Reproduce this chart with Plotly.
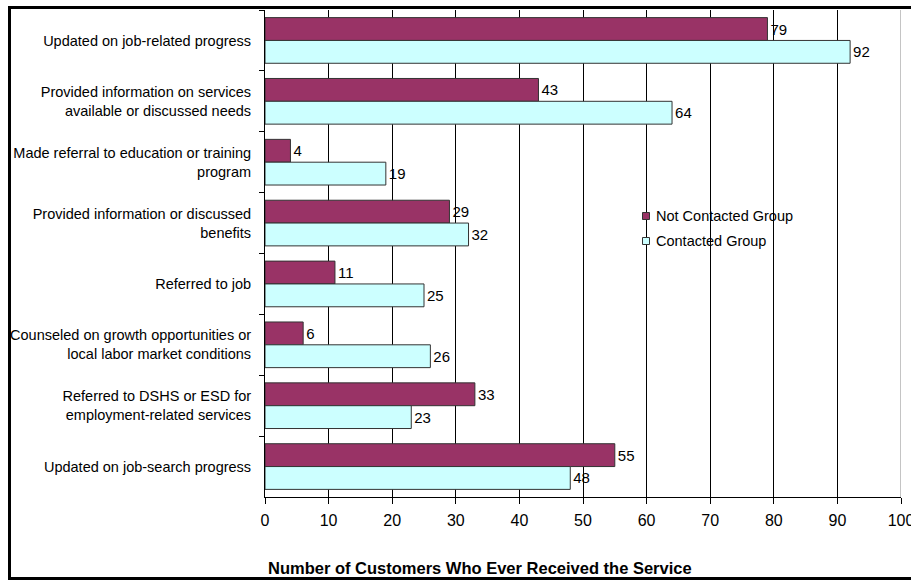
import plotly.graph_objects as go

# Services received, listed top to bottom
categories = [
    "Updated on job-related progress",
    "Provided information on services<br>available or discussed needs",
    "Made referral to education or training<br>program",
    "Provided information or discussed<br>benefits",
    "Referred to job",
    "Counseled on growth opportunities or<br>local labor market conditions",
    "Referred to DSHS or ESD for<br>employment-related services",
    "Updated on job-search progress",
]
not_contacted = [79, 43, 4, 29, 11, 6, 33, 55]
contacted = [92, 64, 19, 32, 25, 26, 23, 48]
series_names = ["Not Contacted Group", "Contacted Group"]
series_colors = ["#993366", "#CCFFFF"]
x_ticks = [0, 10, 20, 30, 40, 50, 60, 70, 80, 90, 100]

W, H = 911, 581
ML, MR, MT, MB = 265, 10, 10, 84
PW, PH = W - ML - MR, H - MT - MB

FONT = "Liberation Sans, Arial, sans-serif"

fig = go.Figure()
for name, color, vals in zip(series_names, series_colors, [not_contacted, contacted]):
    fig.add_trace(go.Bar(
        y=categories, x=vals, orientation="h", name=name,
        marker=dict(color=color, line=dict(color="#333333", width=1)),
        text=vals, textposition="outside", cliponaxis=False,
        textfont=dict(size=15, color="black", family=FONT),
        showlegend=False,
    ))


def px_x(p):
    return (p - ML) / PW


def px_y(p):
    return (H - MB - p) / PH


# Hand-drawn legend: small squares with labels beside them
legend_shapes = []
legend_notes = []
for i, (name, color) in enumerate(zip(series_names, series_colors)):
    cy = 216 + i * 25
    legend_shapes.append(dict(
        type="rect", xref="paper", yref="paper",
        x0=px_x(642.5), x1=px_x(649.5), y0=px_y(cy + 3.5), y1=px_y(cy - 3.5),
        fillcolor=color, line=dict(color="#333333", width=1), layer="above",
    ))
    legend_notes.append(dict(
        text=name, xref="paper", yref="paper", x=px_x(654), y=px_y(cy),
        xanchor="left", yanchor="middle", showarrow=False,
        font=dict(size=14.5, color="black"),
    ))

fig.update_layout(
    width=W, height=H,
    margin=dict(l=ML, r=MR, t=MT, b=MB, pad=0, autoexpand=False),
    paper_bgcolor="white", plot_bgcolor="white",
    barmode="group", bargap=0.25, bargroupgap=0,
    font=dict(family=FONT, size=14.5, color="black"),
    showlegend=False,
    xaxis=dict(
        range=[0, 100], tickvals=x_ticks, ticktext=[str(v) for v in x_ticks],
        showgrid=True, gridcolor="black", gridwidth=1,
        showline=True, linecolor="black", linewidth=1,
        ticks="outside", ticklen=6, tickcolor="black",
        tickfont=dict(size=16), zeroline=False, automargin=False,
        ticklabeloverflow="allow", ticklabelstandoff=3,
    ),
    yaxis=dict(
        autorange="reversed", type="category", automargin=False,
        showline=True, linecolor="black", linewidth=1,
        ticks="outside", ticklen=5, tickcolor="black", tickson="boundaries",
        tickfont=dict(size=14.5), showgrid=False, ticklabelstandoff=10,
    ),
    annotations=legend_notes + [dict(
        text="<b>Number of Customers Who Ever Received the Service</b>",
        xref="paper", yref="paper", x=px_x(479.5), y=px_y(568),
        xanchor="center", yanchor="middle", showarrow=False,
        font=dict(size=16.5, color="black"),
    )],
    shapes=legend_shapes + [
        dict(type="rect", xref="paper", yref="paper",
             x0=px_x(9.5), x1=px_x(920), y0=px_y(578.5), y1=px_y(7.5),
             line=dict(color="black", width=3), fillcolor="rgba(0,0,0,0)",
             layer="above"),
        dict(type="line", xref="x", yref="paper", x0=100, x1=100, y0=0, y1=1,
             line=dict(color="#888888", width=1), layer="above"),
    ],
)

fig.write_html("out.html")
